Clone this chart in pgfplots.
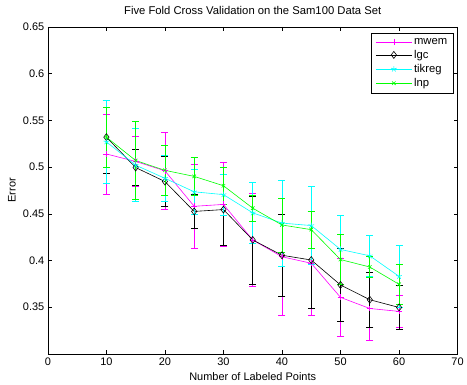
\documentclass[border=0pt]{standalone}
\usepackage{pgfplots}
\usepackage{pgfplotstable}
\pgfplotsset{compat=1.18}
\usepackage{fontspec}
\setmainfont{Liberation Sans}
\definecolor{cmag}{rgb}{1,0,1}
\definecolor{ccyan}{rgb}{0,1,1}
\definecolor{cgreen}{rgb}{0,1,0}

\pgfplotstableread{
x y e
10 0.514 0.043
15 0.506 0.027
20 0.496 0.041
25 0.458 0.045
30 0.460 0.045
35 0.422 0.050
40 0.404 0.063
45 0.397 0.056
50 0.3605 0.042
55 0.3486 0.034
60 0.3455 0.017
}\mwem
\pgfplotstableread{
x y e
10 0.532 0.039
15 0.4995 0.019
20 0.4845 0.027
25 0.4525 0.018
30 0.4545 0.038
35 0.422 0.047
40 0.4056 0.044
45 0.4005 0.052
50 0.3738 0.039
55 0.358 0.029
60 0.3497 0.0235
}\lgc
\pgfplotstableread{
x y e
10 0.527 0.044
15 0.502 0.039
20 0.488 0.025
25 0.4735 0.024
30 0.4705 0.022
35 0.451 0.033
40 0.440 0.046
45 0.4374 0.042
50 0.4118 0.037
55 0.405 0.022
60 0.383 0.033
}\tikreg
\pgfplotstableread{
x y e
10 0.532 0.032
15 0.507 0.042
20 0.4965 0.027
25 0.490 0.020
30 0.480 0.020
35 0.456 0.014
40 0.438 0.029
45 0.433 0.020
50 0.401 0.0265
55 0.393 0.011
60 0.3745 0.021
}\lnp

\begin{document}
\begin{tikzpicture}
\begin{axis}[
  at={(0pt,0pt)}, anchor=south west,
  scale only axis, width=411pt, height=328pt,
  xmin=0, xmax=70, ymin=0.3, ymax=0.65,
  xtick={0,10,20,30,40,50,60,70},
  ytick={0.35,0.4,0.45,0.5,0.55,0.6,0.65},
  yticklabels={0.35,0.4,0.45,0.5,0.55,0.6,0.65},
  tick align=inside, major tick length=4pt,
  tick style={black, line width=0.5pt},
  axis line style={line width=0.5pt},
  /pgf/number format/assume math mode=true,
  tick label style={font=\fontsize{11}{13}\selectfont},
  xlabel={Number of Labeled Points},
  ylabel={Error},
  title={Five Fold Cross Validation on the Sam100 Data Set},
  label style={font=\fontsize{11}{13}\selectfont},
  xlabel style={at={(axis description cs:0.5,-0.0701)}, anchor=center},
  ylabel style={at={(axis description cs:-0.0876,0.5)}, anchor=center},
  title style={at={(axis description cs:0.5,1.0305)}, anchor=center, font=\fontsize{11.3}{13}\selectfont},
  legend style={at={(0.990,0.982)}, anchor=north east, draw=black, line width=0.5pt,
    font=\fontsize{11.3}{13.5}\selectfont, row sep=0.5pt, inner xsep=4pt, inner ysep=3pt},
  legend cell align=left,
  legend image code/.code={
    \draw[mark repeat=2, mark phase=2, #1] plot coordinates {(0pt,0pt) (18pt,0pt) (36pt,0pt)};
  },
  every axis plot/.append style={line width=0.6pt},
  error bars/error bar style={line width=0.6pt},
  error bars/error mark options={rotate=90, mark size=3.5pt, line width=0.6pt},
]
\addplot[cmag, mark=+, mark size=3pt,
  error bars/.cd, y dir=both, y explicit]
  table[x=x, y=y, y error=e] {\mwem};
\addlegendentry{mwem}
\addplot[black, mark=diamond, mark size=3.5pt,
  error bars/.cd, y dir=both, y explicit]
  table[x=x, y=y, y error=e] {\lgc};
\addlegendentry{lgc}
\addplot[ccyan, mark=star, mark size=3pt,
  error bars/.cd, y dir=both, y explicit]
  table[x=x, y=y, y error=e] {\tikreg};
\addlegendentry{tikreg}
\addplot[cgreen, mark=x, mark size=2.5pt,
  error bars/.cd, y dir=both, y explicit]
  table[x=x, y=y, y error=e] {\lnp};
\addlegendentry{lnp}
\end{axis}
\useasboundingbox (-48pt,-31pt) rectangle (419pt,355pt);
\end{tikzpicture}
\end{document}
